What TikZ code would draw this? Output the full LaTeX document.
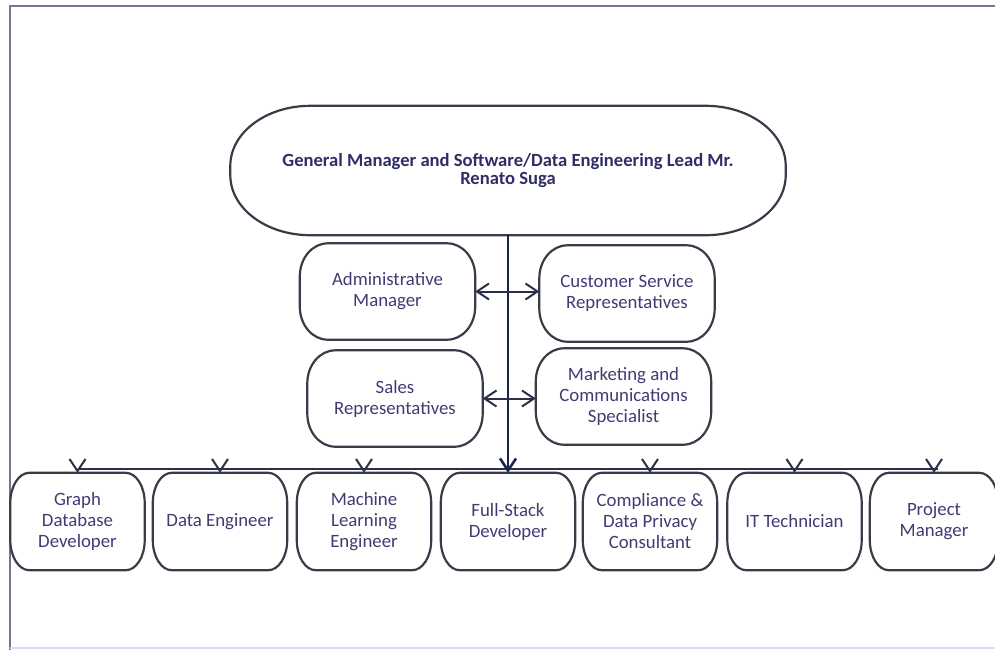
\documentclass[tikz,border=0pt]{standalone}
\usepackage{fontspec}
\setmainfont{Carlito}
\usetikzlibrary{arrows.meta}
\definecolor{txt}{HTML}{3E3C72}
\definecolor{ttl}{HTML}{2F2D66}
\definecolor{boxc}{HTML}{3A3A48}
\definecolor{trunkc}{HTML}{1B2545}
\definecolor{busc}{HTML}{2A3049}
\definecolor{framec}{HTML}{77738F}
\definecolor{frameb}{HTML}{DCDAF2}
\tikzset{
  base/.style={rectangle, inner sep=0pt, align=center, text=txt,
    font=\fontsize{18.8}{21}\selectfont},
  midbox/.style={base, minimum width=175pt, minimum height=96pt},
  lowbox/.style={base, minimum width=134pt, minimum height=97pt},
  boxline/.style={draw=boxc, line width=2.2pt},
  barb/.style={-{Straight Barb[length=12pt,width=16pt]}},
  dbl/.style={{Straight Barb[length=12pt,width=16pt]}-{Straight Barb[length=12pt,width=16pt]}, draw=busc, line width=2pt},
  drop/.style={barb, draw=busc, line width=2pt},
}
\newcommand\capsule[3]{%
 \draw[boxline] ([xshift=#2]#1.north west) -- ([xshift=-#2]#1.north east)
  arc[start angle=90,end angle=0,x radius=#2,y radius=#3]
  -- ([yshift=#3]#1.south east)
  arc[start angle=0,end angle=-90,x radius=#2,y radius=#3]
  -- ([xshift=#2]#1.south west)
  arc[start angle=270,end angle=180,x radius=#2,y radius=#3]
  -- ([yshift=-#3]#1.north west)
  arc[start angle=180,end angle=90,x radius=#2,y radius=#3] -- cycle;}
\begin{document}
\begin{tikzpicture}[x=1pt,y=-1pt]
\useasboundingbox (0,0) rectangle (995,649);
% frame
\draw[framec, line width=2.4pt] (10,650) -- (10,6) -- (996,6);
\draw[frameb, line width=2pt] (10,647.5) -- (996,647.5);
% top box
\node[base, minimum width=555pt, minimum height=129pt, text=ttl,
  font=\fontsize{18.6}{18.5}\selectfont\bfseries] (gm) at (508,170.5)
  {General Manager and Software/Data Engineering Lead Mr.\\Renato Suga};
\capsule{gm}{80pt}{60pt}
% middle boxes
\node[midbox] (adm) at (387.5,291.5) {Administrative\\Manager};
\node[midbox] (csr) at (627,293.5) {Customer Service\\Representatives};
\node[midbox] (sal) at (395,398.5) {Sales\\Representatives};
\node[midbox] (mkt) at (623.5,396.5) {Marketing and\\Communications\\Specialist};
\foreach \n in {adm,csr,sal,mkt} {\capsule{\n}{28pt}{33pt}}
% bottom boxes
\node[lowbox] (gdd) at (77.5,521.5) {Graph\\Database\\Developer};
\node[lowbox] (de)  at (220,521.5) {Data Engineer};
\node[lowbox] (mle) at (364,521.5) {Machine\\Learning\\Engineer};
\node[lowbox] (fsd) at (508,521.5) {Full-Stack\\Developer};
\node[lowbox] (cdp) at (650,521.5) {Compliance \&\\Data Privacy\\Consultant};
\node[lowbox] (itt) at (794.5,521.5) {IT Technician};
\node[lowbox, minimum width=128pt] (pm) at (934,521.5) {Project\\Manager};
\foreach \n in {gdd,de,mle,fsd,cdp,itt,pm} {\capsule{\n}{19pt}{30pt}}
% bus
\coordinate (busL) at (77.5,469);
\coordinate (busR) at (938,469);
\draw[busc, line width=2.2pt] (busL) -- (busR);
\foreach \n in {gdd,de,mle,cdp,itt,pm} {\draw[drop] (\n.north |- busL) -- (\n.north);}
% trunk
\draw[draw=trunkc, line width=2.6pt, barb] (gm.south -| fsd.north) -- (fsd.north);
% double arrows
\draw[dbl] (adm.east) -- (adm.east -| csr.west);
\draw[dbl] (sal.east) -- (sal.east -| mkt.west);
\end{tikzpicture}
\end{document}
